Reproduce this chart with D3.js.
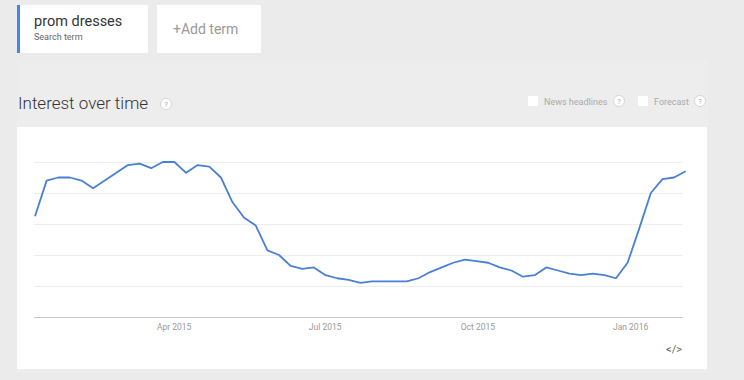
<!DOCTYPE html>
<html>
<head>
<meta charset="utf-8">
<script src="https://cdn.jsdelivr.net/npm/d3@7"></script>
<style>
  body { margin: 0; background: #ebebeb; }
  svg { display: block; font-family: Roboto, "Open Sans", sans-serif; }
</style>
</head>
<body>
<div id="chart"></div>
<script>
// weekly interest, weeks starting Sunday 4 Jan 2015
var firstWeek = new Date(2015, 0, 4);
var interest = [65, 88, 90, 90, 88, 83, 88, 93, 98, 99, 96, 100, 100, 93, 98, 97, 90, 74, 64, 59,
    43, 40, 33, 31, 32, 27, 25, 24, 22, 23, 23, 23, 23, 25, 29, 32, 35, 37, 36, 35,
    32, 30, 26, 27, 32, 30, 28, 27, 28, 27, 25, 35, 57, 80, 89, 90, 94];
var tickDates = [new Date(2015, 3, 1), new Date(2015, 6, 1), new Date(2015, 9, 1), new Date(2016, 0, 1)];
var yTicks = [0, 20, 40, 60, 80, 100];

var W = 744, H = 380;
var svg = d3.select("#chart").append("svg")
    .attr("width", W)
    .attr("height", H);

svg.append("rect").attr("width", W).attr("height", H).attr("fill", "#ebebeb");
// lighter panel
svg.append("rect").attr("x", 17).attr("y", 61).attr("width", 691).attr("height", 312).attr("fill", "#ededed");

// term cards
svg.append("rect").attr("x", 17).attr("y", 5).attr("width", 131).attr("height", 48).attr("fill", "#fff");
svg.append("rect").attr("x", 17).attr("y", 5).attr("width", 3).attr("height", 48).attr("fill", "#4285f4");
svg.append("text").attr("x", 34).attr("y", 26).attr("font-size", 14.5).attr("fill", "#333").text("prom dresses");
svg.append("text").attr("x", 34).attr("y", 40).attr("font-size", 9).attr("fill", "#666").text("Search term");
svg.append("rect").attr("x", 157).attr("y", 5).attr("width", 104).attr("height", 48).attr("fill", "#fff");
svg.append("text").attr("x", 173).attr("y", 34).attr("font-size", 14).attr("fill", "#999").text("+Add term");

// header
svg.append("text").attr("x", 18).attr("y", 109).attr("font-size", 17).attr("fill", "#333")
    .attr("font-weight", 300).text("Interest over time");

function helpIcon(cx, cy) {
    var g = svg.append("g");
    g.append("circle").attr("cx", cx).attr("cy", cy).attr("r", 5.5)
        .attr("fill", "#fff").attr("stroke", "#d6d6d6");
    g.append("text").attr("x", cx).attr("y", cy + 3).attr("text-anchor", "middle")
        .attr("font-size", 7.5).attr("fill", "#aaa").text("?");
}
helpIcon(166, 104);

function checkbox(x, label) {
    svg.append("rect").attr("x", x).attr("y", 96).attr("width", 10).attr("height", 10).attr("fill", "#fff");
    svg.append("text").attr("x", x + 16).attr("y", 105).attr("font-size", 9).attr("fill", "#aaa").text(label);
}
checkbox(528, "News headlines");
helpIcon(619, 101);
checkbox(638, "Forecast");
helpIcon(700, 101);

// chart card
svg.append("rect").attr("x", 17).attr("y", 127).attr("width", 690).attr("height", 242).attr("fill", "#fff");

var data = interest.map(function(v, i) {
    return { date: d3.timeDay.offset(firstWeek, i * 7), value: v };
});

var x = d3.scaleTime()
    .domain([firstWeek, d3.timeDay.offset(firstWeek, interest.length * 7)])
    .range([29.2, 691.5]);
var y = d3.scaleLinear()
    .domain([0, 100])
    .range([317, 162]);

// gridlines
svg.append("g").selectAll("line")
    .data(yTicks.slice(1))
    .enter().append("line")
    .attr("x1", 34)
    .attr("x2", 683)
    .attr("y1", function(d) { return Math.round(y(d)) + 0.5; })
    .attr("y2", function(d) { return Math.round(y(d)) + 0.5; })
    .attr("stroke", "#eeeeee");

svg.append("line")
    .attr("x1", 34).attr("x2", 683)
    .attr("y1", y(0) + 0.5).attr("y2", y(0) + 0.5)
    .attr("stroke", "#c8c8c8").attr("stroke-width", 1.2);

var xAxis = d3.axisBottom(x)
    .tickValues(tickDates)
    .tickSize(0)
    .tickPadding(7)
    .tickFormat(d3.timeFormat("%b %Y"));
var xg = svg.append("g")
    .attr("transform", "translate(0," + y(0) + ")")
    .call(xAxis);
xg.select(".domain").remove();
xg.selectAll("text").attr("font-size", 8.5).attr("fill", "#999").attr("font-family", "Roboto");

var line = d3.line()
    .x(function(d) { return x(d3.timeHour.offset(d.date, 84)); })
    .y(function(d) { return y(d.value); });

svg.append("path")
    .datum(data)
    .attr("d", line)
    .attr("fill", "none")
    .attr("stroke", "#4a7fd6")
    .attr("stroke-width", 1.8)
    .attr("stroke-linejoin", "round");

// embed icon
svg.append("text").attr("x", 674).attr("y", 353).attr("text-anchor", "middle")
    .attr("font-size", 11).attr("fill", "#666").text("</>");
</script>
</body>
</html>
